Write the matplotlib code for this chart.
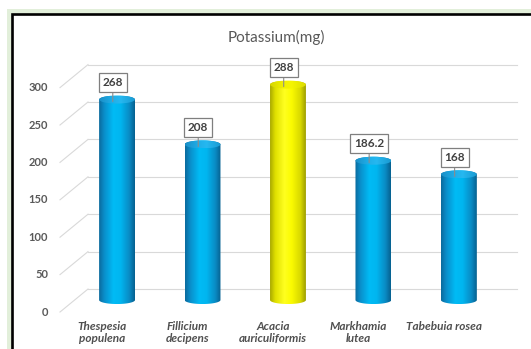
import matplotlib
matplotlib.use('Agg')
import matplotlib.pyplot as plt
import numpy as np
from matplotlib.colors import LinearSegmentedColormap
from matplotlib.patches import Ellipse, PathPatch, Rectangle
from matplotlib.path import Path
from matplotlib.transforms import ScaledTranslation

# potassium content per species (mg)
species = ['Thespesia\npopulena', 'Fillicium\ndecipens', 'Acacia\nauriculiformis',
           'Markhamia\nlutea', 'Tabebuia rosea']
potassium = [268, 208, 288, 186.2, 168]
yticks = [0, 50, 100, 150, 200, 250, 300]

plt.rcParams['font.family'] = ['Lato', 'DejaVu Sans']
TXT = '#595959'
GRID = '#d9d9d9'

W, H = 531, 349
fig = plt.figure(figsize=(W / 100, H / 100), dpi=100)

# green page margin + black frame (behind the axes)
fig.patches.append(Rectangle((7 / W, -0.1), 1.0, (H - 9) / H + 0.1, transform=fig.transFigure,
                             facecolor='#e2efda', edgecolor='none', zorder=-2))
fig.patches.append(Rectangle((12 / W, -0.1), 1.0, (H - 14) / H + 0.1, transform=fig.transFigure,
                             facecolor='white', edgecolor='black', lw=1.9, zorder=-1))

fig.text(276 / W, 1 - 37 / H, 'Potassium(mg)', ha='center', va='center', fontsize=11, color=TXT)

ax = fig.add_axes([88 / W, (H - 320) / H, (517 - 88) / W, 280 / H])
ax.set_xlim(-0.34, 4.68)
ax.set_ylim(-26.7, 347.6)
ax.axis('off')

ypx = (347.6 + 26.7) / 280   # data units per pixel
xpx = 1 / (517 - 88)         # axes fraction per pixel


def shift(dx, dy):
    return ScaledTranslation(dx / 100, dy / 100, fig.dpi_scale_trans)


ytrans = ax.get_yaxis_transform()
for v in yticks:
    # back wall line, side wall diagonal, tick label on the front edge
    ax.plot([0, 1], [v, v], transform=ytrans + shift(0, 11), color=GRID, lw=0.8, zorder=1, clip_on=False)
    ax.plot([-28 * xpx, 0], [v - 12 * ypx, v + 11 * ypx], transform=ytrans, color=GRID, lw=0.8,
            zorder=1, clip_on=False)
    ax.text(-40 * xpx, v - 12 * ypx, str(v), transform=ytrans, ha='right', va='center',
            fontsize=8, fontweight='bold', color=TXT)

side_blue = LinearSegmentedColormap.from_list('sb', [(0, '#0b6a9c'), (0.15, '#0a8fcb'), (0.4, '#00bbf5'),
                                                     (0.6, '#00b6f0'), (0.85, '#0a8ac3'), (1, '#06608f')])
top_blue = LinearSegmentedColormap.from_list('tb', [(0, '#1a8ec6'), (0.4, '#1fb0ea'), (0.6, '#26b8f0'),
                                                    (1, '#1a9ad2')])
side_yel = LinearSegmentedColormap.from_list('sy', [(0, '#a9a900'), (0.15, '#e0e000'), (0.4, '#ffff20'),
                                                    (0.6, '#fbfb00'), (0.85, '#d8d800'), (1, '#9d9d00')])
top_yel = LinearSegmentedColormap.from_list('ty', [(0, '#d6d600'), (0.4, '#f2f200'), (0.6, '#f5f500'),
                                                   (1, '#dcdc00')])

grad = np.linspace(0, 1, 256).reshape(1, -1)
eh = 8 * ypx
bars = ax.bar(range(len(potassium)), potassium, width=0.42, color='none', zorder=2)
for i, (rect, v) in enumerate(zip(bars, potassium)):
    x0, w, h = rect.get_x(), rect.get_width(), rect.get_height()
    xc, a, b = x0 + w / 2, w / 2, eh / 2
    hot = v == max(potassium)
    side_cm, top_cm = (side_yel, top_yel) if hot else (side_blue, top_blue)

    t1 = np.linspace(np.pi, 2 * np.pi, 40)
    t2 = np.linspace(0, np.pi, 40)
    pts = np.vstack([np.column_stack([xc + a * np.cos(t1), b * np.sin(t1)]),
                     np.column_stack([xc + a * np.cos(t2), h + b * np.sin(t2)])])
    body = PathPatch(Path(pts, closed=False), facecolor='none', edgecolor='none')
    ax.add_patch(body)
    ax.imshow(grad, cmap=side_cm, extent=(x0, x0 + w, -b, h + b), aspect='auto', origin='lower',
              interpolation='bilinear', clip_path=body, zorder=3)

    cap = Ellipse((xc, h), w, eh, facecolor='none', edgecolor='none')
    ax.add_patch(cap)
    ax.imshow(grad, cmap=top_cm, extent=(x0, x0 + w, h - b, h + b), aspect='auto', origin='lower',
              interpolation='bilinear', clip_path=cap, zorder=4)

    ax.annotate(f'{v:g}', xy=(xc - 0.05, h - 2 * ypx), xytext=(0, 19), textcoords='offset pixels',
                ha='center', va='center', fontsize=8.5, fontweight='bold', color='#404040',
                bbox=dict(boxstyle='square,pad=0.32', fc='white', ec='#7f7f7f', lw=0.9),
                arrowprops=dict(arrowstyle='-', color='#8c8c8c', lw=0.8, shrinkA=0, shrinkB=0),
                zorder=6)

    ax.text(i, 0, species[i], transform=ax.get_xaxis_transform() + shift(-15, -1),
            ha='center', va='top', fontsize=8.5, fontweight='bold', fontstyle='italic',
            color='#505050', linespacing=1.1)

ax.set_xlim(-0.34, 4.68)
ax.set_ylim(-26.7, 347.6)

fig.savefig('out.png', dpi=100)
